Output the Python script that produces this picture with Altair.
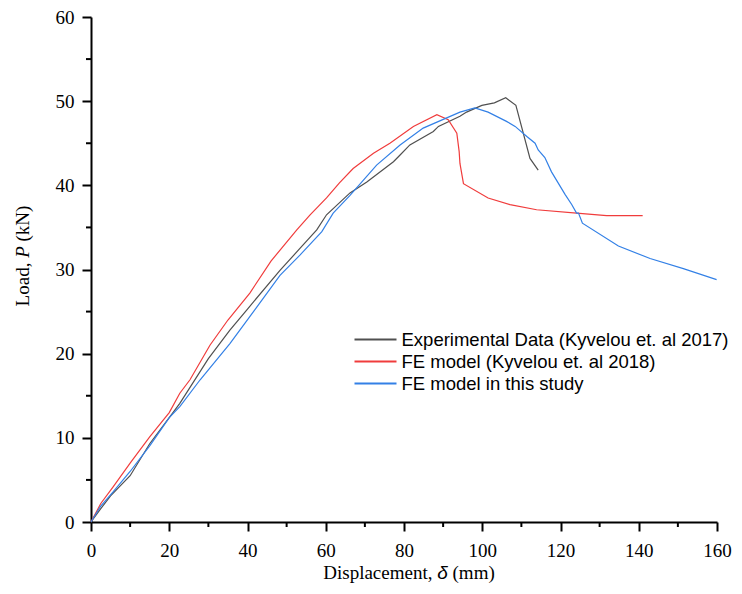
import altair as alt
import pandas as pd

# Experimental Data (Kyvelou et. al 2017)
exp_x = [0, 2.5, 5, 10, 15, 20, 22.7, 30, 35.5, 40, 48.3, 53.4, 57.7, 60.2, 66.2, 70.5, 77.3, 79, 81.5, 87.5, 88.8, 94.3, 96, 99.9, 103.1, 106, 108.6, 112.2, 114.3]
exp_y = [0, 1.6, 3.1, 5.5, 9.3, 12.4, 14.1, 19.4, 22.8, 25.3, 29.9, 32.5, 34.7, 36.5, 39.1, 40.4, 42.8, 43.6, 44.8, 46.4, 47.0, 48.2, 48.7, 49.5, 49.8, 50.4, 49.5, 43.2, 41.8]

# FE model (Kyvelou et. al 2018)
fe18_x = [0, 2.5, 5.7, 10, 15, 20, 22.7, 25.3, 30.4, 35, 40.6, 46, 52.6, 56, 60.2, 63.5, 67.0, 72.2, 76.4, 82.4, 88.4, 91.3, 93.5, 94.1, 94.3, 95.2, 101.5, 107.1, 113.9, 124.1, 131.8, 141]
fe18_y = [0, 2.2, 4.2, 7.0, 10.1, 13.0, 15.3, 16.9, 21.0, 24.0, 27.2, 31.0, 34.7, 36.5, 38.5, 40.3, 42.0, 43.8, 45.0, 47.0, 48.4, 47.8, 46.2, 44.0, 42.6, 40.2, 38.5, 37.7, 37.1, 36.7, 36.4, 36.4]

# FE model in this study
fe_x = [0, 2.5, 5.7, 10, 15.1, 20, 22.7, 27.9, 35.5, 42, 48.3, 53.4, 59, 61.9, 66.2, 73, 79, 84.9, 94.3, 98.1, 101.5, 106.2, 108.4, 111.4, 113.5, 114.3, 116, 117.7, 121.2, 122.9, 124.1, 124.6, 125.6, 134.8, 142.9, 151.4, 159.9]
fe_y = [0, 1.9, 3.6, 6.0, 9.1, 12.4, 13.7, 16.9, 21.2, 25.3, 29.3, 31.7, 34.5, 36.7, 38.8, 42.4, 44.8, 46.8, 48.7, 49.2, 48.7, 47.6, 47.0, 45.8, 45.0, 44.2, 43.3, 41.6, 38.9, 37.7, 36.7, 36.7, 35.5, 32.8, 31.3, 30.1, 28.8]

series_names = ["Experimental Data (Kyvelou et. al 2017)", "FE model (Kyvelou et. al 2018)", "FE model in this study"]
series_colors = ["#505050", "#f03c3c", "#3380e6"]

x_major = [0, 20, 40, 60, 80, 100, 120, 140, 160]
x_minor = [10, 30, 50, 70, 90, 110, 130, 150]
y_major = [0, 10, 20, 30, 40, 50, 60]
y_minor = [5, 15, 25, 35, 45, 55]

# axis titles, split so that the symbol can be set in italics
x_title_parts = ["Displacement,", "δ", "(mm)"]
y_title_parts = ["Load,", "P", "(kN)"]

rows = []
for name, xs, ys in zip(series_names, [exp_x, fe18_x, fe_x], [exp_y, fe18_y, fe_y]):
    for i, (a, b) in enumerate(zip(xs, ys)):
        rows.append({"series": name, "order": i, "d": a, "p": b})
df = pd.DataFrame(rows)

W, H = 626, 505
serif = "Liberation Serif"

xscale = alt.Scale(domain=[0, 160], nice=False, zero=False)
yscale = alt.Scale(domain=[0, 60], nice=False, zero=False)

lines = alt.Chart(df).mark_line(strokeWidth=1.2).encode(
    x=alt.X("d:Q", scale=xscale,
            axis=alt.Axis(values=x_major, title=None, grid=False,
                          domainColor="black", domainWidth=2, tickColor="black", tickWidth=2,
                          tickSize=9, labelFont=serif, labelFontSize=19, labelColor="black",
                          labelPadding=10, labelFlush=False)),
    y=alt.Y("p:Q", scale=yscale,
            axis=alt.Axis(values=y_major, title=None, grid=False,
                          domainColor="black", domainWidth=2, tickColor="black", tickWidth=2,
                          tickSize=9, labelFont=serif, labelFontSize=19, labelColor="black",
                          labelPadding=8, labelFlush=False)),
    color=alt.Color("series:N",
                    scale=alt.Scale(domain=series_names, range=series_colors),
                    legend=alt.Legend(title=None, orient="none", legendX=273, legendY=311,
                                      symbolType="M-2,0L2,0", symbolSize=441, symbolStrokeWidth=2,
                                      labelFont="Liberation Sans", labelFontSize=18.5,
                                      labelColor="black", labelOffset=14.5, rowPadding=1,
                                      padding=0, labelLimit=400)),
    order="order:Q",
)

xminor = alt.Chart(pd.DataFrame({"d": x_minor})).mark_rule(color="black", strokeWidth=2).encode(
    x=alt.X("d:Q", scale=xscale), y=alt.value(H), y2=alt.value(H + 5))
yminor = alt.Chart(pd.DataFrame({"p": y_minor})).mark_rule(color="black", strokeWidth=2).encode(
    y=alt.Y("p:Q", scale=yscale), x=alt.value(0), x2=alt.value(-5))

# ---- x title: "Displacement, δ (mm)" with italic δ
fx = 19.0
sp_x = 0.25 * fx
w_disp = 5.749 * fx
w_delta = 0.556 * fx
w_mm = 2.222 * fx
total_x = w_disp + sp_x + w_delta + sp_x + w_mm
cx = 318.0
bx = cx - total_x / 2 + w_disp + sp_x       # start of δ
ybase = 562.0

def txt(s, **kw):
    return alt.Chart(pd.DataFrame({"t": [s]})).mark_text(color="black", **kw).encode(text="t:N")

xt1 = txt(x_title_parts[0], font=serif, fontSize=fx, align="right", baseline="alphabetic").encode(
    x=alt.value(bx - sp_x), y=alt.value(ybase))
xt2 = txt(x_title_parts[1], font="Liberation Sans", fontSize=fx, fontStyle="italic", align="left",
          baseline="alphabetic").encode(x=alt.value(bx), y=alt.value(ybase))
xt3 = txt(x_title_parts[2], font=serif, fontSize=fx, align="left", baseline="alphabetic").encode(
    x=alt.value(bx + w_delta + sp_x), y=alt.value(ybase))

# ---- y title: "Load, P (kN)" with italic P, rotated
fy = 19.0
sp_y = 0.25 * fy
w_load = 2.305 * fy
w_p = 0.611 * fy
w_kn = 1.888 * fy
total_y = w_load + sp_y + w_p + sp_y + w_kn
cy = 239.0
xcen = -62.5
py = cy + total_y / 2 - w_load - sp_y        # start of P (reading upward)

yt1 = txt(y_title_parts[0], font=serif, fontSize=fy, angle=270, align="right", baseline="alphabetic").encode(
    x=alt.value(xcen), y=alt.value(py + sp_y))
yt2 = txt(y_title_parts[1], font=serif, fontSize=fy, fontStyle="italic", angle=270, align="left",
          baseline="alphabetic").encode(x=alt.value(xcen), y=alt.value(py))
yt3 = txt(y_title_parts[2], font=serif, fontSize=fy, angle=270, align="left", baseline="alphabetic").encode(
    x=alt.value(xcen), y=alt.value(py - w_p - sp_y))

chart = alt.layer(lines, xminor, yminor, xt1, xt2, xt3, yt1, yt2, yt3).properties(
    width=W, height=H,
    autosize=alt.AutoSizeParams(type="none"),
    padding={"left": 83, "top": 9, "right": 17, "bottom": 62},
).configure_view(stroke=None)

chart.save("out.html", embed_options={"renderer": "svg", "actions": False})
